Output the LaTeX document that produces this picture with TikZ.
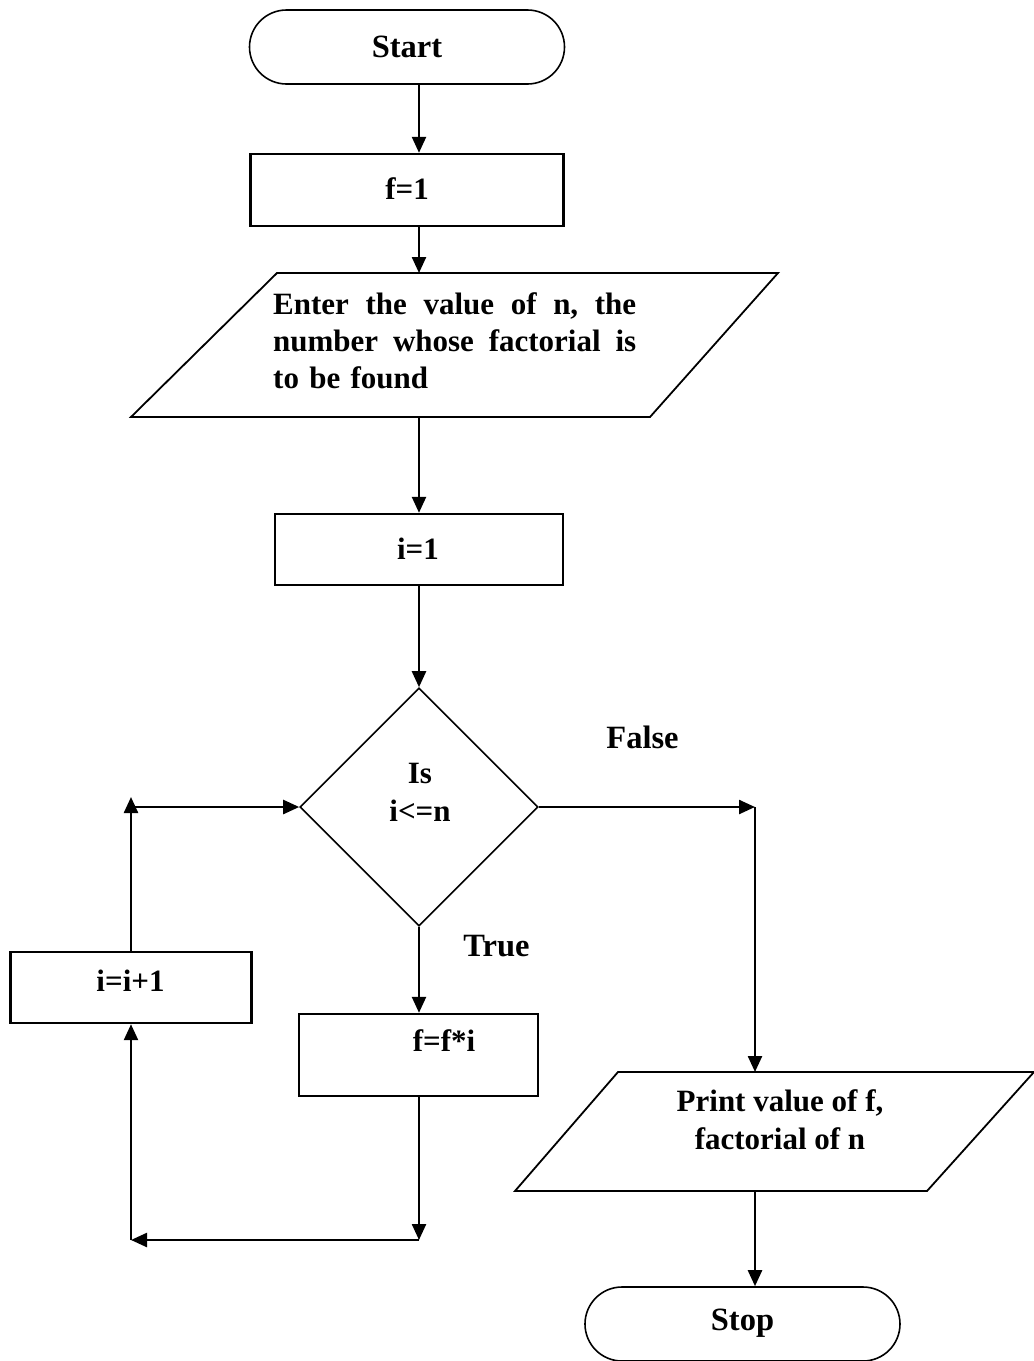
\documentclass[tikz,border=0pt]{standalone}
\usepackage{fontspec}
\setmainfont{Liberation Serif}
\usetikzlibrary{shapes.geometric,shapes.misc,arrows.meta}
\begin{document}
\begin{tikzpicture}[x=1pt,y=-1pt,
  lbl/.style={font=\fontsize{31}{38}\selectfont\bfseries, inner sep=0pt, align=center},
  biglbl/.style={lbl, font=\fontsize{32.5}{38}\selectfont\bfseries},
  procbox/.style={draw, line width=2.4pt, inner sep=0pt},
  termbox/.style={draw, rounded rectangle, line width=1.6pt, inner sep=0pt, minimum width=315pt, minimum height=74pt},
  iobox/.style={draw, line width=1.8pt, line join=miter},
  decbox/.style={draw, diamond, line width=1.6pt, inner sep=0pt, minimum width=238pt, minimum height=238pt},
  arr/.style={line width=2.4pt, -{Triangle[length=16pt,width=14pt]}}]
\useasboundingbox (0,0) rectangle (1034,1361);

% column coordinates
\coordinate (col) at (419,0);
\coordinate (rcol) at (755,0);
\coordinate (lcol) at (131,0);

% Start
\node[termbox] (start) at (407,47) {};
\node[biglbl] (startt) at (407,47) {Start};

% f=1
\node[procbox, minimum width=313pt, minimum height=72pt] (f1) at (407,190) {};
\node[lbl] (f1t) at (407,189) {f=1};

% Input parallelogram
\draw[iobox] (277,273) -- (778,273) -- (650,417) -- (131,417) -- cycle;
\coordinate (intop) at (419,273);
\coordinate (inbot) at (419,417);
\node[lbl, font=\fontsize{31}{37}\selectfont\bfseries, align=left, text width=363pt, anchor=north west] (intext) at (273,292)
  {\leavevmode\hbox to 363pt{Enter\hfill the\hfill value\hfill of\hfill n,\hfill the}\\
   \leavevmode\hbox to 363pt{number\hfill whose\hfill factorial\hfill is}\\
   to be found};

% i=1
\node[procbox, minimum width=288pt, minimum height=71pt] (i1) at (419,549.5) {};
\node[lbl] (i1t) at (418,549) {i=1};

% decision
\node[decbox] (dec) at (419,807) {};
\node[lbl] (dect) at (420,792) {Is\\i<=n};

\node[biglbl] (false) at (642.5,737.5) {False};
\node[biglbl] (true) at (496.5,946.5) {True};

% f=f*i
\node[procbox, minimum width=239pt, minimum height=82pt] (ffi) at (418.5,1055) {};
\node[lbl] (ffit) at (444,1041) {f=f*i};

% i=i+1
\node[procbox, minimum width=241pt, minimum height=71pt] (inc) at (131,987.5) {};
\node[lbl] (inct) at (130.5,981) {i=i+1};

% Print parallelogram
\draw[iobox] (618,1072) -- (1034,1072) -- (927,1191) -- (515,1191) -- cycle;
\coordinate (outtop) at (755,1072);
\coordinate (outbot) at (755,1191);
\node[lbl] (outtext) at (780,1120) {Print value of f,\\factorial of n};

% Stop
\node[termbox] (stop) at (742.5,1324) {};
\node[biglbl] (stopt) at (742.5,1323) {Stop};

% loop coordinates
\coordinate (bl) at (131,1240);
\coordinate (tlup) at (131,797);

% connectors
\draw[arr] (start.south -| col) -- (f1.north -| col);
\draw[arr] (f1.south -| col) -- (intop);
\draw[arr] (inbot) -- (i1.north -| col);
\draw[arr] (i1.south -| col) -- (dec.north);
\draw[arr] (dec.south) -- (ffi.north -| col);
\draw[arr] (ffi.south -| col) -- (bl -| col);
\draw[arr] (bl -| col) -- (bl);
\draw[arr] (bl) -- (inc.south -| lcol);
\draw[arr] (inc.north -| lcol) -- (tlup);
\draw[arr] (dec.west -| lcol) -- (dec.west);
\draw[arr] (dec.east) -- (dec.east -| rcol);
\draw[arr] (dec.east -| rcol) -- (outtop);
\draw[arr] (outbot) -- (stop.north -| rcol);
\end{tikzpicture}
\end{document}
